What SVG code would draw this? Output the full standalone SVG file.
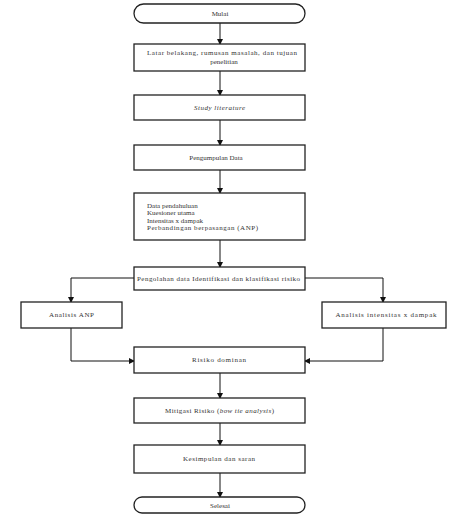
<svg xmlns="http://www.w3.org/2000/svg" width="474" height="517" viewBox="0 0 474 517">
<style>
.box{fill:#fff;stroke:#222;stroke-width:1.3}
.t{font-family:"Liberation Serif","Times New Roman",serif;font-size:7px;fill:#333;text-anchor:middle}
.tl{font-family:"Liberation Serif","Times New Roman",serif;font-size:7px;fill:#333}
.c{fill:none;stroke:#111;stroke-width:1}
</style>
<defs>
<marker id="ah" markerWidth="6" markerHeight="6" refX="5" refY="3" orient="auto" markerUnits="userSpaceOnUse">
<path d="M0,0 L6,3 L0,6 Z" fill="#111"/>
</marker>
</defs>
<rect width="474" height="517" fill="#fff"/>
<g id="connectors">
<path class="c" d="M220,23 V44" marker-end="url(#ah)"/>
<path class="c" d="M220,71 V95" marker-end="url(#ah)"/>
<path class="c" d="M220,120 V145" marker-end="url(#ah)"/>
<path class="c" d="M220,170 V193" marker-end="url(#ah)"/>
<path class="c" d="M220,240 V267" marker-end="url(#ah)"/>
<path class="c" d="M134,278 H71 V302" marker-end="url(#ah)"/>
<path class="c" d="M305,278 H383 V302" marker-end="url(#ah)"/>
<path class="c" d="M71,328 V361 H134" marker-end="url(#ah)"/>
<path class="c" d="M383,328 V361 H305" marker-end="url(#ah)"/>
<path class="c" d="M220,373 V398" marker-end="url(#ah)"/>
<path class="c" d="M220,423 V445" marker-end="url(#ah)"/>
<path class="c" d="M220,473 V497" marker-end="url(#ah)"/>
</g>
<g id="mulai">
<rect class="box" x="134" y="4" width="171" height="19" rx="9.5"/>
<text class="t" x="220" y="16">Mulai</text>
</g>
<g id="latar">
<rect class="box" x="134" y="44" width="171" height="27"/>
<text class="t" x="222" y="55" textLength="150">Latar belakang, rumusan masalah, dan tujuan</text>
<text class="t" x="224" y="64">penelitian</text>
</g>
<g id="study">
<rect class="box" x="134" y="95" width="171" height="25"/>
<text class="t" x="219.5" y="110" font-style="italic" textLength="51">Study literature</text>
</g>
<g id="pengumpulan">
<rect class="box" x="134" y="145" width="171" height="25"/>
<text class="t" x="216" y="160">Pengumpulan Data</text>
</g>
<g id="data">
<rect class="box" x="134" y="193" width="171" height="47"/>
<text class="tl" x="147" y="207.5">Data pendahuluan</text>
<text class="tl" x="147" y="215">Kuesioner utama</text>
<text class="tl" x="147" y="222.5">Intensitas x dampak</text>
<text class="tl" x="147" y="230" textLength="111">Perbandingan berpasangan (ANP)</text>
</g>
<g id="pengolahan">
<rect class="box" x="134" y="267" width="171" height="23"/>
<text class="t" x="218.5" y="281" textLength="163">Pengolahan data Identifikasi dan klasifikasi risiko</text>
</g>
<g id="anp">
<rect class="box" x="21" y="302" width="101" height="26"/>
<text class="t" x="71.5" y="317" textLength="45">Analisis ANP</text>
</g>
<g id="intensitas">
<rect class="box" x="322" y="302" width="124" height="26"/>
<text class="t" x="386" y="317" textLength="101">Analisis intensitas x dampak</text>
</g>
<g id="dominan">
<rect class="box" x="134" y="347" width="171" height="26"/>
<text class="t" x="219" y="362" textLength="54">Risiko dominan</text>
</g>
<g id="mitigasi">
<rect class="box" x="134" y="398" width="171" height="25"/>
<text class="t" x="219.5" y="413" textLength="109">Mitigasi Risiko (<tspan font-style="italic">bow tie analysis</tspan>)</text>
</g>
<g id="kesimpulan">
<rect class="box" x="134" y="445" width="171" height="28"/>
<text class="t" x="219" y="461" textLength="72">Kesimpulan dan saran</text>
</g>
<g id="selesai">
<rect class="box" x="134" y="497" width="171" height="16" rx="8"/>
<text class="t" x="220" y="507.5">Selesai</text>
</g>
</svg>
